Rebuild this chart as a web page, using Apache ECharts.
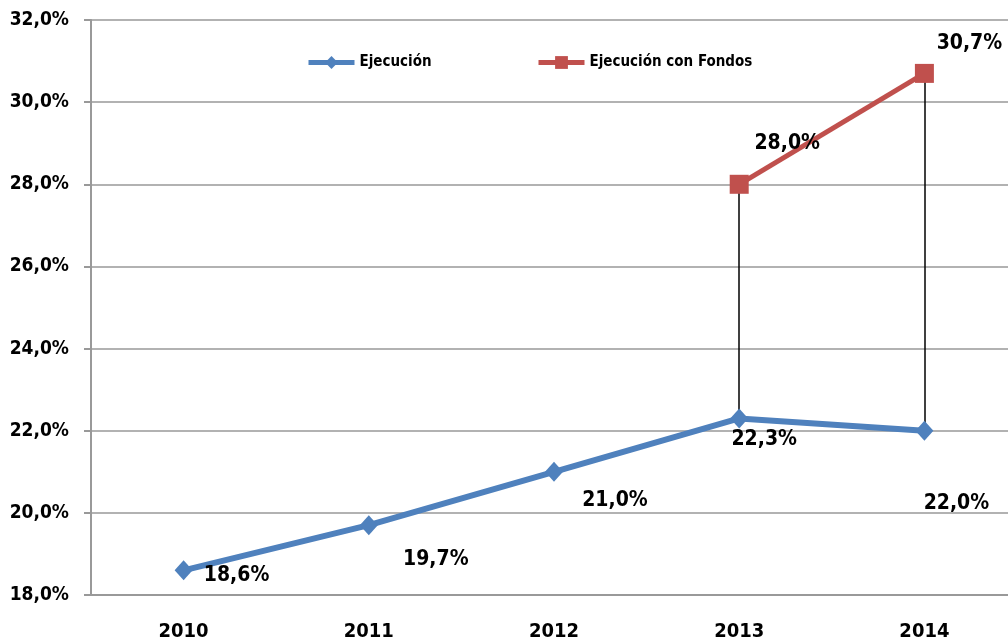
<!DOCTYPE html>
<html>
<head>
<meta charset="utf-8">
<script src="https://cdn.jsdelivr.net/npm/echarts@6/dist/echarts.min.js"></script>
<style>
html,body{margin:0;padding:0;background:#fff;overflow:hidden;}
#c{width:1017px;height:642px;}
</style>
</head>
<body>
<div id="c"></div>
<script>
var years = ['2010','2011','2012','2013','2014'];
var ejecucion = [18.6, 19.7, 21.0, 22.3, 22.0];
var ejecucionFondos = [null, null, null, 28.0, 30.7];
var seriesNames = ['Ejecución', 'Ejecución con Fondos'];
var yTicks = {min: 18, max: 32, interval: 2};

// label placement (styling only)
var blueLabelOffsets = [[53,5],[67,34],[61,29],[25,21],[32,73]];
var redLabelOffsets = [null,null,null,[48,-41],[45,-30]];

var FONT = '"Liberation Sans Narrow", "DejaVu Sans Condensed", sans-serif';
function fmt(v){ return v.toFixed(1).replace('.', ',') + '%'; }

var blueData = ejecucion.map(function(v,i){
  return {value: v, label: {offset: blueLabelOffsets[i]}};
});
var redData = ejecucionFondos.map(function(v,i){
  if (v === null) return null;
  return {value: v, label: {offset: redLabelOffsets[i]}};
});
var dropLines = [];
ejecucionFondos.forEach(function(v,i){
  if (v !== null) dropLines.push([{coord:[i, v]},{coord:[i, ejecucion[i]]}]);
});

var labelStyle = {
  show: true, position: 'inside', align: 'center', verticalAlign: 'middle',
  fontFamily: FONT, fontWeight: 'bold', fontSize: 21, color: '#000',
  formatter: function(p){ return fmt(p.value); }
};
var legendText = {fontFamily: FONT, fontWeight: 'bold', fontSize: 15, color: '#000'};

var chart = echarts.init(document.getElementById('c'));
chart.setOption({
  animation: false,
  backgroundColor: '#fff',
  grid: {left: 91, right: 0, top: 20, bottom: 45, containLabel: false},
  legend: [
    {data: [{name: seriesNames[0], lineStyle: {width: 5}}], left: 301, top: 50,
     itemWidth: 46, itemHeight: 16, itemGap: 6, textStyle: legendText},
    {data: [{name: seriesNames[1], lineStyle: {width: 5}}], left: 531, top: 50,
     itemWidth: 46, itemHeight: 16, itemGap: 6, textStyle: legendText}
  ],
  xAxis: {
    type: 'category', data: years, boundaryGap: true,
    axisLine: {show: true, lineStyle: {color: '#999', width: 2}},
    axisTick: {show: false},
    axisLabel: {margin: 27, fontFamily: FONT, fontWeight: 'bold', fontSize: 20, color: '#000'}
  },
  yAxis: {
    type: 'value', min: yTicks.min, max: yTicks.max, interval: yTicks.interval,
    axisLine: {show: true, lineStyle: {color: '#999', width: 2}},
    axisTick: {show: true, inside: false, length: 7, lineStyle: {color: '#999', width: 2}},
    splitLine: {show: true, lineStyle: {color: '#999', width: 1.5}},
    axisLabel: {margin: 22, fontFamily: FONT, fontWeight: 'bold', fontSize: 19, color: '#000',
      formatter: function(v){ return fmt(v); }}
  },
  series: [
    {
      name: seriesNames[0], type: 'line', data: blueData,
      symbol: 'diamond', symbolSize: [18, 20],
      lineStyle: {color: '#4F81BD', width: 6},
      itemStyle: {color: '#4F81BD'},
      label: labelStyle, z: 3
    },
    {
      name: seriesNames[1], type: 'line', data: redData,
      symbol: 'rect', symbolSize: 19,
      lineStyle: {color: '#C0504D', width: 5},
      itemStyle: {color: '#C0504D'},
      label: labelStyle, z: 4,
      markLine: {
        silent: true, symbol: 'none', label: {show: false},
        lineStyle: {color: '#000', width: 1.5, type: 'solid'},
        data: dropLines, z: 2
      }
    }
  ]
});
</script>
</body>
</html>
